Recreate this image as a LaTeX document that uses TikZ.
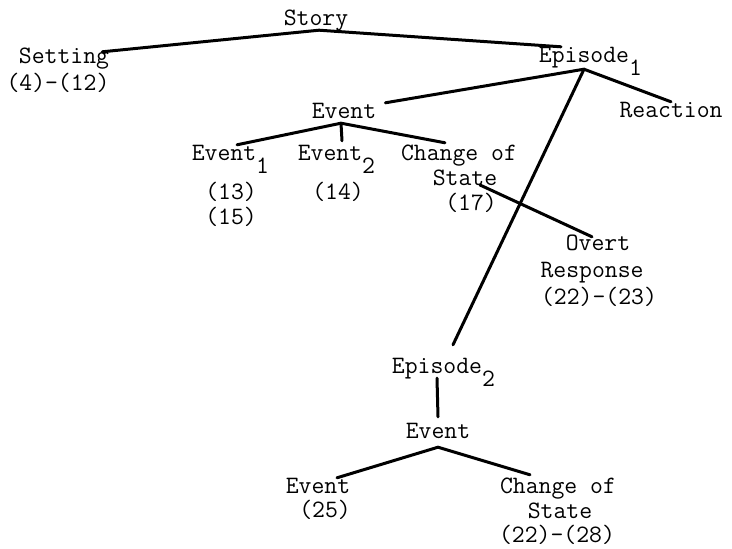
\documentclass[tikz,border=0pt]{standalone}
\usepackage{fontspec}
\newcommand\subidx[1]{\rlap{\raisebox{-13pt}{#1}}}
\usetikzlibrary{backgrounds,calc,positioning}

\begin{document}
\begin{tikzpicture}[x=1pt,y=-1pt,
  lbl/.style={font=\ttfamily\fontsize{25}{29}\selectfont,inner sep=0pt,anchor=base,text height=15pt,text depth=5pt},
  branch/.style={line width=3pt,line cap=round}]
  \path[use as bounding box] (0,0) rectangle (732,549);
  % top level
  \node[lbl] at (316,25)(story){Story};
  \node[lbl] at (64,63)(setting){Setting};
  \node[lbl] at (58,90)(settingref){(4)-(12)};
  \node[lbl] at (584,62)(ep1){Episode\subidx{1}};
  \node[lbl] at (671,117)(reaction){Reaction};
  % first episode
  \node[lbl] at (344,118)(ev){Event};
  \node[lbl] at (224,160)(ev1){Event\subidx{1}};
  \node[lbl] at (231,199)(ev1ref){(13)};
  \node[lbl] at (231,224)(ev1refb){(15)};
  \node[lbl] at (330,160)(ev2){Event\subidx{2}};
  \node[lbl] at (338,199)(ev2ref){(14)};
  \node[lbl] at (459,160)(chg){Change of};
  \node[lbl] at (465,185)(chgb){State};
  \node[lbl] at (471,210)(chgref){(17)};
  \node[lbl] at (598,250)(overt){Overt};
  \node[lbl] at (592,277)(resp){Response};
  \node[lbl] at (599,304)(respref){(22)-(23)};
  % second episode
  \node[lbl] at (437,373)(ep2){Episode\subidx{2}};
  \node[lbl] at (438,438)(evb){Event};
  \node[lbl] at (318,493)(evc){Event};
  \node[lbl] at (325,517)(evcref){(25)};
  \node[lbl] at (558,493)(chgc){Change of};
  \node[lbl] at (560,518)(chgcb){State};
  \node[lbl] at (557,542)(chgcref){(22)-(28)};

  \draw[branch] ([xshift=-7pt,yshift=-4pt]setting.north east) -- ([xshift=3pt]story.south) -- ([xshift=-23pt]ep1.north);
  \draw[branch] ([xshift=9pt]ev.north east) -- ([yshift=-2pt]ep1.south) -- (reaction.north);
  \draw[branch] ([yshift=-2pt]ep1.south) -- ([xshift=16pt,yshift=13pt]ep2.north);
  \draw[branch] ([xshift=13pt]ev1.north) -- ([xshift=-3pt]ev.south) -- ([xshift=-14pt,yshift=2pt]chg.north);
  \draw[branch] ([xshift=-3pt]ev.south) -- ([xshift=12pt,yshift=4pt]ev2.north);
  \draw[branch] ([xshift=15pt]chgb.base) -- ([xshift=-6pt,yshift=-2pt]overt.north);
  \draw[branch] (ep2.south) -- ([yshift=6pt]evb.north);
  \draw[branch] ([xshift=19pt]evc.north) -- ([yshift=-4pt]evb.south) -- ([xshift=-28pt,yshift=3pt]chgc.north);
\end{tikzpicture}
\end{document}
